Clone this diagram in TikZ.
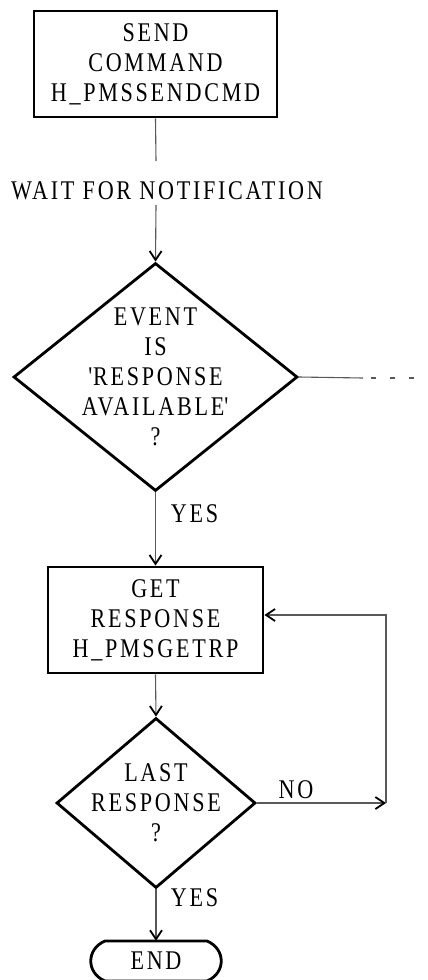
\documentclass[tikz,border=0pt]{standalone}
\usepackage{fontspec}
\setmainfont{Liberation Serif}[FakeStretch=0.82,LetterSpace=10]
\usetikzlibrary{shapes.geometric,arrows.meta,calc}
\begin{document}
\begin{tikzpicture}[x=1pt,y=-1pt,
  every node/.style={font=\fontsize{27}{30}\selectfont, align=center, inner sep=0pt},
  procbox/.style={draw=black, line width=2.8pt, minimum height=106pt},
  decision/.style={diamond, draw=black, line width=2.8pt, inner sep=0pt},
  shapeline/.style={draw=black, line width=2.8pt},
  conn/.style={draw=black!65, line width=1.1pt},
  arr/.style={conn, -{Straight Barb[length=9pt,width=12pt,line width=1.8pt,color=black]}},
  dashconn/.style={draw=black!65, line width=1.1pt, dash pattern=on 5pt off 14pt}
]
\useasboundingbox (0,0) rectangle (428,980);

% nodes
\node[procbox, minimum width=243pt] (b1) at (155.5,64) {SEND\\COMMAND\\H\_PMSSENDCMD};
\coordinate (w1) at (156,161);
\node (wait) at (167,190.5) {WAIT FOR NOTIFICATION};
\coordinate (w2) at (156,205);

\node[decision, minimum width=284pt, minimum height=228pt] (d1) at (155.5,377) {};
\node (d1t) at (d1.center) {EVENT\\IS\\\textquotesingle RESPONSE\\AVAILABLE\textquotesingle\\?};
\coordinate (e1) at (363,378);
\coordinate (e2) at (371,378);
\coordinate (e3) at (415,378);
\node (yes1) at (194.5,514) {YES};

\node[procbox, minimum width=215pt] (b2) at (155.5,620) {GET\\RESPONSE\\H\_PMSGETRP};

\node[decision, minimum width=199pt, minimum height=170pt] (d2) at (156,803) {};
\node (d2t) at (d2.center) {LAST\\RESPONSE\\?};
\node (no) at (296,790) {NO};
\coordinate (r1) at (386,803);
\coordinate (r2) at (386,615);
\node (yes2) at (194.5,898) {YES};

\node[minimum width=102pt, minimum height=40pt] (end) at (156,961) {END};
\draw[shapeline] ($(end.center)+(-51,-20)$) -- ($(end.center)+(51,-20)$)
  .. controls ($(end.center)+(70,-12)$) and ($(end.center)+(70,12)$) .. ($(end.center)+(51,20)$)
  -- ($(end.center)+(-51,20)$)
  .. controls ($(end.center)+(-70,12)$) and ($(end.center)+(-70,-12)$) .. cycle;

% connectors
\draw[conn] (b1.south) -- (w1);
\draw[arr] (w2) -- (d1.north);
\draw[conn] (d1.east) -- (e1);
\draw[dashconn] (e2) -- (e3);
\draw[arr] (d1.south) -- (b2.north);
\draw[arr] (b2.south) -- (d2.north);
\draw[arr] (d2.east) -- (r1);
\draw[arr] (r1) -- (r2) -- (r2 -| b2.east);
\draw[arr] (d2.south) -- (end.north);
\end{tikzpicture}
\end{document}
